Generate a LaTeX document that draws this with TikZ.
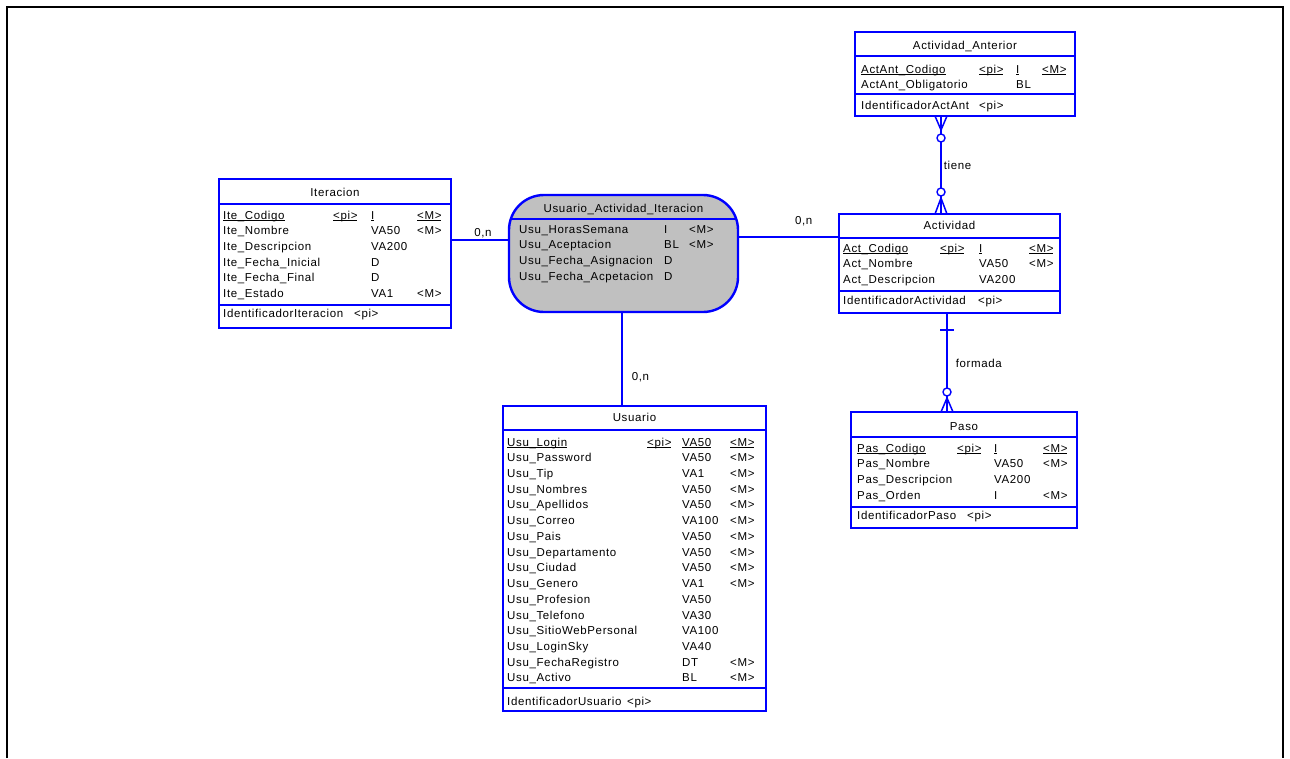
\documentclass[tikz,border=0pt]{standalone}
\usepackage{fontspec}
\setmainfont[LetterSpace=5.5]{Liberation Sans}
\usetikzlibrary{calc}
\definecolor{erblue}{RGB}{0,0,255}
\definecolor{assocgray}{RGB}{192,192,192}
% column widths of the attribute rows of the entity being drawn
\newlength\cwa \newlength\cwb \newlength\cwc
\newcommand\cols[3]{\setlength\cwa{#1pt}\setlength\cwb{#2pt}\setlength\cwc{#3pt}}
% underline set close under the baseline
\newcommand\undl[1]{\setbox0\hbox{#1}\rlap{\rule[-2pt]{\wd0}{0.8pt}}\box0}
% one attribute row: name, code, type, mandatory flag
\newcommand\erow[6]{\node[rowtxt] (#1) at (#2) {\makebox[\cwa][l]{#3}\makebox[\cwb][l]{#4}\makebox[\cwc][l]{#5}#6};}
\begin{document}
\begin{tikzpicture}[x=1pt,y=-1pt,
  every node/.style={font=\fontsize{11.5pt}{13pt}\selectfont},
  entity/.style={draw=erblue, line width=2.4pt, fill=white, rectangle, inner sep=0pt, outer sep=0pt, anchor=north west},
  assoc/.style={entity, fill=assocgray, rounded corners=35pt},
  sepline/.style={draw=erblue, line width=2pt},
  rowtxt/.style={anchor=base west, inner sep=0pt},
  ttl/.style={anchor=base, inner sep=0pt},
  conn/.style={draw=erblue, line width=1.5pt},
  ring/.style={draw=erblue, line width=1.4pt, fill=white},
  lbl/.style={inner sep=1pt}]
\useasboundingbox (0,0) rectangle (1290,758);
\fill[white] (0,0) rectangle (1290,758);
% page frame
\draw[black, line width=1.5pt] (7,758) -- (7,7) -- (1283,7) -- (1283,758);

% ---------- Actividad_Anterior ----------
\node[entity, minimum width=220pt, minimum height=84pt] (aa) at (855,32) {};
\draw[sepline] ([yshift=-24pt]aa.north west) -- ([yshift=-24pt]aa.north east);
\draw[sepline] ([yshift=-62pt]aa.north west) -- ([yshift=-62pt]aa.north east);
\node[ttl] (aa-t) at (965,49) {Actividad\_Anterior};
\cols{118}{37}{26}
\erow{aa-1}{861,73}{\undl{ActAnt\_Codigo}}{\undl{<pi>}}{\undl{I}}{\undl{<M>}}
\erow{aa-2}{861,88.5}{ActAnt\_Obligatorio}{}{BL}{}
\node[rowtxt] (aa-id) at (861,109) {\makebox[118pt][l]{IdentificadorActAnt}<pi>};

% ---------- Iteracion ----------
\node[entity, minimum width=232pt, minimum height=149pt] (it) at (219,179) {};
\draw[sepline] ([yshift=-25pt]it.north west) -- ([yshift=-25pt]it.north east);
\draw[sepline] ([yshift=-126pt]it.north west) -- ([yshift=-126pt]it.north east);
\node[ttl] (it-t) at (335,196) {Iteracion};
\cols{110}{38}{46}
\erow{it-1}{223,219}{\undl{Ite\_Codigo}}{\undl{<pi>}}{\undl{I}}{\undl{<M>}}
\erow{it-2}{223,234.7}{Ite\_Nombre}{}{VA50}{<M>}
\erow{it-3}{223,250.4}{Ite\_Descripcion}{}{VA200}{}
\erow{it-4}{223,266.1}{Ite\_Fecha\_Inicial}{}{D}{}
\erow{it-5}{223,281.8}{Ite\_Fecha\_Final}{}{D}{}
\erow{it-6}{223,297.5}{Ite\_Estado}{}{VA1}{<M>}
\node[rowtxt] (it-id) at (223,317) {\makebox[131pt][l]{IdentificadorIteracion}<pi>};

% ---------- Usuario_Actividad_Iteracion ----------
\node[assoc, minimum width=229pt, minimum height=117pt] (as) at (509,195) {};
\draw[sepline] ([shift={(1.8pt,-24pt)}]as.north west) -- ([shift={(-1.8pt,-24pt)}]as.north east);
\node[ttl] (as-t) at (623.5,212) {Usuario\_Actividad\_Iteracion};
\cols{145}{0}{25}
\erow{as-1}{519,233}{Usu\_HorasSemana}{}{I}{<M>}
\erow{as-2}{519,248.7}{Usu\_Aceptacion}{}{BL}{<M>}
\erow{as-3}{519,264.4}{Usu\_Fecha\_Asignacion}{}{D}{}
\erow{as-4}{519,280}{Usu\_Fecha\_Acpetacion}{}{D}{}

% ---------- Actividad ----------
\node[entity, minimum width=221pt, minimum height=99pt] (ac) at (839,214) {};
\draw[sepline] ([yshift=-24pt]ac.north west) -- ([yshift=-24pt]ac.north east);
\draw[sepline] ([yshift=-77pt]ac.north west) -- ([yshift=-77pt]ac.north east);
\node[ttl] (ac-t) at (949.5,229) {Actividad};
\cols{97}{39}{50}
\erow{ac-1}{843,252}{\undl{Act\_Codigo}}{\undl{<pi>}}{\undl{I}}{\undl{<M>}}
\erow{ac-2}{843,267.7}{Act\_Nombre}{}{VA50}{<M>}
\erow{ac-3}{843,283.4}{Act\_Descripcion}{}{VA200}{}
\node[rowtxt] (ac-id) at (843,304) {\makebox[135pt][l]{IdentificadorActividad}<pi>};

% ---------- Paso ----------
\node[entity, minimum width=226pt, minimum height=116pt] (pa) at (851,412) {};
\draw[sepline] ([yshift=-25pt]pa.north west) -- ([yshift=-25pt]pa.north east);
\draw[sepline] ([yshift=-95pt]pa.north west) -- ([yshift=-95pt]pa.north east);
\node[ttl] (pa-t) at (964,430) {Paso};
\cols{100}{37}{49}
\erow{pa-1}{857,452}{\undl{Pas\_Codigo}}{\undl{<pi>}}{\undl{I}}{\undl{<M>}}
\erow{pa-2}{857,467.7}{Pas\_Nombre}{}{VA50}{<M>}
\erow{pa-3}{857,483.4}{Pas\_Descripcion}{}{VA200}{}
\erow{pa-4}{857,499.1}{Pas\_Orden}{}{I}{<M>}
\node[rowtxt] (pa-id) at (857,519) {\makebox[110pt][l]{IdentificadorPaso}<pi>};

% ---------- Usuario ----------
\node[entity, minimum width=263pt, minimum height=305pt] (us) at (503,406) {};
\draw[sepline] ([yshift=-24pt]us.north west) -- ([yshift=-24pt]us.north east);
\draw[sepline] ([yshift=-282pt]us.north west) -- ([yshift=-282pt]us.north east);
\node[ttl] (us-t) at (634.5,421) {Usuario};
\cols{140}{35}{48}
\erow{us-1}{507,446}{\undl{Usu\_Login}}{\undl{<pi>}}{\undl{VA50}}{\undl{<M>}}
\erow{us-2}{507,461.7}{Usu\_Password}{}{VA50}{<M>}
\erow{us-3}{507,477.5}{Usu\_Tip}{}{VA1}{<M>}
\erow{us-4}{507,493.2}{Usu\_Nombres}{}{VA50}{<M>}
\erow{us-5}{507,508.9}{Usu\_Apellidos}{}{VA50}{<M>}
\erow{us-6}{507,524.7}{Usu\_Correo}{}{VA100}{<M>}
\erow{us-7}{507,540.4}{Usu\_Pais}{}{VA50}{<M>}
\erow{us-8}{507,556.1}{Usu\_Departamento}{}{VA50}{<M>}
\erow{us-9}{507,571.8}{Usu\_Ciudad}{}{VA50}{<M>}
\erow{us-10}{507,587.6}{Usu\_Genero}{}{VA1}{<M>}
\erow{us-11}{507,603.3}{Usu\_Profesion}{}{VA50}{}
\erow{us-12}{507,619}{Usu\_Telefono}{}{VA30}{}
\erow{us-13}{507,634.8}{Usu\_SitioWebPersonal}{}{VA100}{}
\erow{us-14}{507,650.5}{Usu\_LoginSky}{}{VA40}{}
\erow{us-15}{507,666.2}{Usu\_FechaRegistro}{}{DT}{<M>}
\erow{us-16}{507,681.9}{Usu\_Activo}{}{BL}{<M>}
\node[rowtxt] (us-id) at (507,705) {\makebox[120pt][l]{IdentificadorUsuario}<pi>};

% ---------- association links ----------
\draw[conn] ([yshift=13.5pt]it.east) coordinate (itR)
  -- node[lbl, pos=0.55, anchor=south] (l1) {0,n} (itR -| as.west);
\draw[conn] ([yshift=16.5pt]as.east) coordinate (asR)
  -- node[lbl, pos=0.65, anchor=south, yshift=9pt] (l2) {0,n} (asR -| ac.west);
\draw[conn] ([xshift=-1.5pt]as.south) coordinate (asB)
  -- node[lbl, pos=0.69, anchor=west, xshift=8pt] (l3) {0,n} (asB |- us.north);

% ---------- tiene: many-to-many, optional on both sides ----------
\coordinate (tA) at ([xshift=-24pt]aa.south);
\coordinate (tB) at (tA |- ac.north);
\draw[conn] (tA) -- node[lbl, pos=0.5, anchor=west, xshift=1pt] (l4) {tiene} (tB);
\draw[conn] ([xshift=-6pt]tA) -- ([yshift=-14pt]tA) -- ([xshift=6pt]tA);
\draw[ring] ([yshift=-22pt]tA) circle (4pt);
\draw[conn] ([xshift=-6pt]tB) -- ([yshift=16pt]tB) -- ([xshift=6pt]tB);
\draw[ring] ([yshift=22pt]tB) circle (4pt);

% ---------- formada: one Actividad, many optional Paso ----------
\coordinate (fA) at ([xshift=-2.5pt]ac.south);
\coordinate (fB) at (fA |- pa.north);
\draw[conn] (fA) -- node[lbl, pos=0.505, anchor=west, xshift=7pt] (l5) {formada} (fB);
\draw[conn] ([shift={(-7pt,-17pt)}]fA) -- ([shift={(7pt,-17pt)}]fA);
\draw[conn] ([xshift=-6pt]fB) -- ([yshift=14pt]fB) -- ([xshift=6pt]fB);
\draw[ring] ([yshift=20pt]fB) circle (4pt);
\end{tikzpicture}
\end{document}
